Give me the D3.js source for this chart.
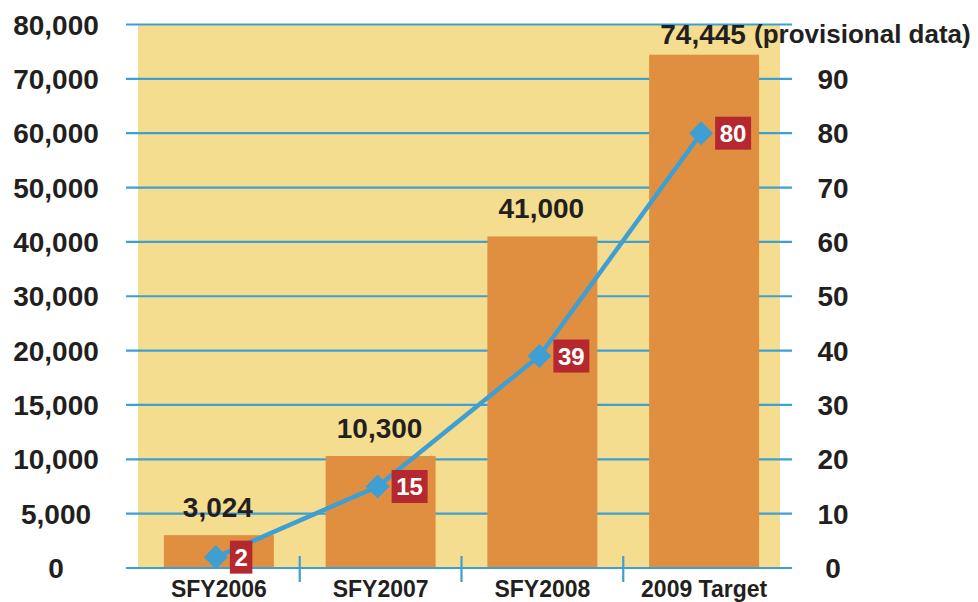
<!DOCTYPE html>
<html>
<head>
<meta charset="utf-8">
<script src="https://cdn.jsdelivr.net/npm/d3@7"></script>
<style>
  body { margin: 0; background: #fff; }
  text { font-family: "Liberation Sans", Arial, sans-serif; font-weight: bold; fill: #231f20; }
</style>
</head>
<body>
<svg id="chart" width="978" height="602"></svg>
<script>
// chart values
var categories = ['SFY2006', 'SFY2007', 'SFY2008', '2009 Target'];
var barValues = [3024, 10300, 41000, 74445];
var barLabels = ['3,024', '10,300', '41,000', '74,445'];
var lineValues = [2, 15, 39, 80];
var leftTicks = [0, 5000, 10000, 15000, 20000, 30000, 40000, 50000, 60000, 70000, 80000];
var rightTicks = [0, 10, 20, 30, 40, 50, 60, 70, 80, 90];
var rightMax = 100;

var svg = d3.select('#chart'),
    plotLeft = 138,
    plotRight = 780,
    yBottom = 568,
    yTop = 24.5,
    step = (yBottom - yTop) / (leftTicks.length - 1);

// left axis is uneven (0..20k by 5k, then by 10k), so map each tick to an even step
var yLeft = d3.scaleLinear()
    .domain(leftTicks)
    .range(leftTicks.map(function (d, i) { return yBottom - i * step; }));

var yRight = d3.scaleLinear().domain([0, rightMax]).range([yBottom, yTop]);

var x = d3.scaleBand()
    .domain(categories)
    .range([plotLeft, 785])
    .paddingInner(0.32)
    .paddingOuter(0.16);

var blue = '#3f9fd3';

// plot background
svg.append('rect')
    .attr('x', plotLeft)
    .attr('y', yTop)
    .attr('width', plotRight - plotLeft)
    .attr('height', yBottom - yTop)
    .attr('fill', '#f4dd8e');

// gridlines
svg.append('g').selectAll('line')
    .data(leftTicks)
    .join('line')
    .attr('x1', 126)
    .attr('x2', 792)
    .attr('y1', function (d) { return yLeft(d); })
    .attr('y2', function (d) { return yLeft(d); })
    .attr('stroke', blue)
    .attr('stroke-width', 2.2);

// bars
svg.append('g').selectAll('rect')
    .data(barValues)
    .join('rect')
    .attr('x', function (d, i) { return x(categories[i]); })
    .attr('width', x.bandwidth())
    .attr('y', function (d) { return yLeft(d); })
    .attr('height', function (d) { return yBottom - 1 - yLeft(d); })
    .attr('fill', '#e08f40');

// separators between categories
var step2 = x.step();
svg.append('g').selectAll('line')
    .data(categories.slice(1))
    .join('line')
    .attr('x1', function (d) { return x(d) - (step2 - x.bandwidth()) / 2; })
    .attr('x2', function (d) { return x(d) - (step2 - x.bandwidth()) / 2; })
    .attr('y1', 556)
    .attr('y2', 582)
    .attr('stroke', blue)
    .attr('stroke-width', 2.2);

// left tick labels
svg.append('g').selectAll('text')
    .data(leftTicks)
    .join('text')
    .attr('x', 56)
    .attr('y', function (d) { return yLeft(d) + 10; })
    .attr('text-anchor', 'middle')
    .attr('font-size', 28)
    .text(function (d) { return d3.format(',')(d); });

// right tick labels
svg.append('g').selectAll('text')
    .data(rightTicks)
    .join('text')
    .attr('x', 833)
    .attr('y', function (d) { return yRight(d) + 10; })
    .attr('text-anchor', 'middle')
    .attr('font-size', 28)
    .text(function (d) { return d; });

// category labels
svg.append('g').selectAll('text')
    .data(categories)
    .join('text')
    .attr('x', function (d) { return x(d) + x.bandwidth() / 2; })
    .attr('y', 597)
    .attr('text-anchor', 'middle')
    .attr('font-size', 23)
    .text(function (d) { return d; });

// bar value labels
svg.append('g').selectAll('text')
    .data(barValues)
    .join('text')
    .attr('x', function (d, i) { return x(categories[i]) + x.bandwidth() / 2 - 1; })
    .attr('y', function (d) { return Math.max(yLeft(d) - 18, 44); })
    .attr('text-anchor', 'middle')
    .attr('font-size', 28)
    .text(function (d, i) { return barLabels[i]; });

svg.append('text')
    .attr('x', 754)
    .attr('y', 43)
    .attr('font-size', 26)
    .text('(provisional data)');

// line series on the right axis
var pts = lineValues.map(function (d, i) {
    return [x(categories[i]) + x.bandwidth() / 2 - 3, yRight(d)];
});

svg.append('path')
    .attr('d', d3.line()(pts))
    .attr('fill', 'none')
    .attr('stroke', blue)
    .attr('stroke-width', 4.5);

svg.append('g').selectAll('rect')
    .data(pts)
    .join('rect')
    .attr('x', -8.5)
    .attr('y', -8.5)
    .attr('width', 17)
    .attr('height', 17)
    .attr('transform', function (p) { return 'translate(' + p[0] + ',' + p[1] + ') rotate(45)'; })
    .attr('fill', blue);

// value boxes
var boxes = svg.append('g').selectAll('g')
    .data(lineValues)
    .join('g')
    .attr('transform', function (d, i) { return 'translate(' + (pts[i][0] + 14) + ',' + pts[i][1] + ')'; });

boxes.append('rect')
    .attr('y', -16.5)
    .attr('height', 33)
    .attr('width', function (d) { return String(d).length * 13.5 + 9; })
    .attr('fill', '#b5282f');

boxes.append('text')
    .attr('x', function (d) { return (String(d).length * 13.5 + 9) / 2; })
    .attr('y', 9)
    .attr('text-anchor', 'middle')
    .attr('font-size', 24)
    .style('fill', '#fff')
    .text(function (d) { return d; });
</script>
</body>
</html>
